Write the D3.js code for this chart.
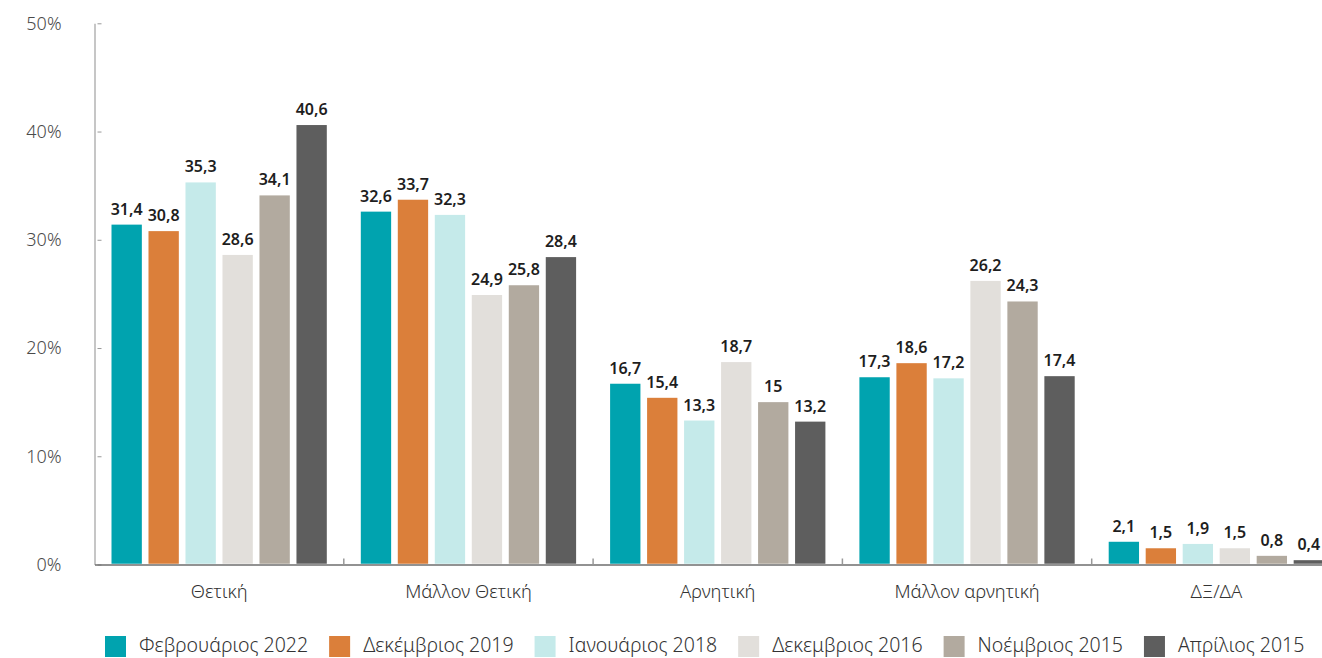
<!DOCTYPE html>
<html>
<head>
<meta charset="utf-8">
<script src="https://cdn.jsdelivr.net/npm/d3@7"></script>
<style>
  body { margin: 0; background: #fff; }
  svg text { font-family: "Noto Sans", sans-serif; }
</style>
</head>
<body>
<svg id="chart"></svg>
<script>
var width = 1322;
var height = 658;

var categories = ["Θετική", "Μάλλον Θετική", "Αρνητική", "Μάλλον αρνητική", "ΔΞ/ΔΑ"];
var periods = ["Φεβρουάριος 2022", "Δεκέμβριος 2019", "Ιανουάριος 2018", "Δεκεμβριος 2016", "Νοέμβριος 2015", "Απρίλιος 2015"];
var colors = ["#00a3af", "#db7f3a", "#c5eaea", "#e2dfdb", "#b2aa9f", "#5e5e5e"];

var feb2022 = [31.4, 32.6, 16.7, 17.3, 2.1];
var dec2019 = [30.8, 33.7, 15.4, 18.6, 1.5];
var jan2018 = [35.3, 32.3, 13.3, 17.2, 1.9];
var dec2016 = [28.6, 24.9, 18.7, 26.2, 1.5];
var nov2015 = [34.1, 25.8, 15, 24.3, 0.8];
var apr2015 = [40.6, 28.4, 13.2, 17.4, 0.4];
var seriesValues = [feb2022, dec2019, jan2018, dec2016, nov2015, apr2015];

var yTicks = [0, 10, 20, 30, 40, 50];

var plotLeft = 94.5, plotRight = 1341, plotTop = 23.3, plotBottom = 564.5;

var svg = d3.select("#chart").attr("width", width).attr("height", height);

var x0 = d3.scaleBand().domain(categories).range([plotLeft, plotRight]).paddingInner(0).paddingOuter(0);
var x1 = d3.scaleBand().domain(periods).range([17, x0.bandwidth() - 17]).paddingInner(0.18).paddingOuter(0);
var y = d3.scaleLinear().domain([0, 50]).range([plotBottom, plotTop]);

// one row per bar
var rows = [];
categories.forEach(function (c, ci) {
  periods.forEach(function (p, pi) {
    rows.push({ cat: c, period: p, pi: pi, value: seriesValues[pi][ci] });
  });
});

// y axis
var yAxis = d3.axisLeft(y).tickValues(yTicks).tickFormat(function (d) { return d + "%"; })
  .tickSize(0).tickPadding(33);
var gy = svg.append("g").attr("transform", "translate(" + plotLeft + ",0)").call(yAxis);
gy.select(".domain").attr("stroke", "#b3b3b3").attr("stroke-width", 1.5);
gy.selectAll(".tick text").attr("fill", "#4a4a4a").style("font-size", "18px").style("font-weight", 300);
gy.selectAll(".tick").append("line").attr("x1", 3).attr("x2", 7).attr("stroke", "#999").attr("stroke-width", 1);

// x axis
var xAxis = d3.axisBottom(x0).tickSize(0).tickPadding(20);
var gx = svg.append("g").attr("transform", "translate(0," + plotBottom + ")").call(xAxis);
gx.select(".domain").attr("stroke", "#6e6e6e").attr("stroke-width", 1.5);
gx.selectAll(".tick text").attr("fill", "#333").style("font-size", "18.5px").style("font-weight", 300);

// group separators
gx.selectAll(".sep")
  .data(categories.slice(1).concat(["end"]))
  .enter()
  .append("line")
  .attr("x1", function (d) { return d === "end" ? plotRight : x0(d); })
  .attr("x2", function (d) { return d === "end" ? plotRight : x0(d); })
  .attr("y1", -6).attr("y2", 0)
  .attr("stroke", "#999").attr("stroke-width", 1.5);

// bars
svg.append("g")
  .selectAll("rect")
  .data(rows)
  .enter()
  .append("rect")
  .attr("x", function (d) { return x0(d.cat) + x1(d.period); })
  .attr("y", function (d) { return y(d.value); })
  .attr("width", x1.bandwidth())
  .attr("height", function (d) { return plotBottom - 0.75 - y(d.value); })
  .attr("fill", function (d) { return colors[d.pi]; });

// value labels
svg.append("g")
  .selectAll("text")
  .data(rows)
  .enter()
  .append("text")
  .attr("x", function (d) { return x0(d.cat) + x1(d.period) + x1.bandwidth() / 2; })
  .attr("y", function (d) { return y(d.value) - 10; })
  .attr("text-anchor", "middle")
  .attr("fill", "#1e1e1e")
  .style("font-size", "16px")
  .style("font-weight", 600)
  .text(function (d) { return String(d.value).replace(".", ","); });

// legend
var legend = svg.append("g").attr("transform", "translate(105,636)");
var lx = 0;
periods.forEach(function (p, i) {
  var item = legend.append("g").attr("transform", "translate(" + lx + ",0)");
  item.append("rect").attr("width", 21).attr("height", 21).attr("fill", colors[i]);
  var t = item.append("text")
    .attr("x", 34).attr("y", 16)
    .attr("fill", "#333")
    .style("font-size", "19.5px")
    .style("font-weight", 300)
    .text(p);
  lx += 34 + t.node().getComputedTextLength() + 21;
});
</script>
</body>
</html>
